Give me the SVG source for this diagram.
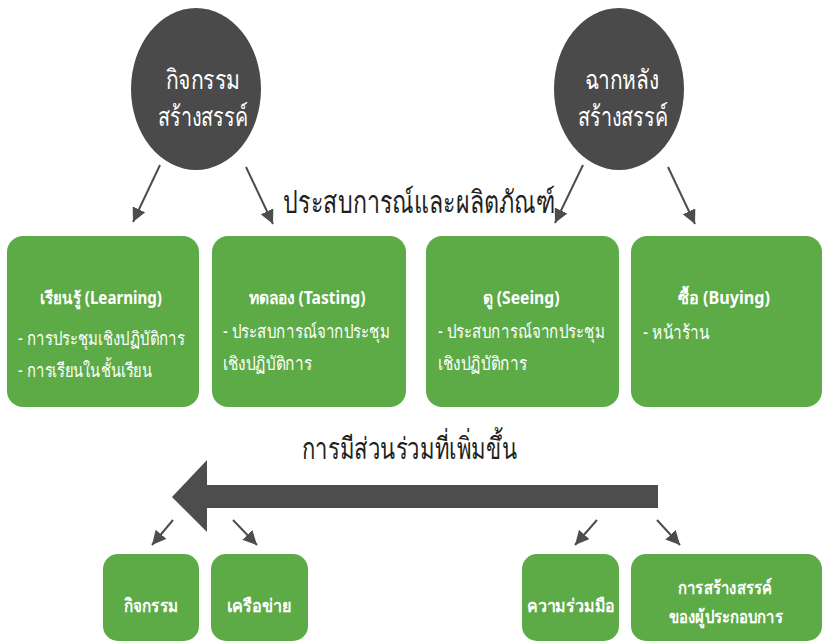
<svg xmlns="http://www.w3.org/2000/svg" width="823" height="643" viewBox="0 0 823 643">
<defs>
<style>
.box{fill:#5DAB47;}
.circ{fill:#4A4A4A;}
.t{font-family:"Noto Sans","DejaVu Sans",sans-serif;fill:#FFFFFF;}
.tb{font-family:"Noto Sans","DejaVu Sans",sans-serif;fill:#FFFFFF;font-weight:bold;}
.h{font-family:"Noto Sans","DejaVu Sans",sans-serif;fill:#231F20;}
.con{stroke:#4D4D4D;stroke-width:2;fill:none;}
</style>
<marker id="ah" markerUnits="userSpaceOnUse" markerWidth="16" markerHeight="14" refX="14" refY="7" orient="auto">
<path d="M0,0 L14,7 L0,14 Z" fill="#4D4D4D"/>
</marker>
</defs>
<rect width="823" height="643" fill="#FFFFFF"/>

<g id="circle-left">
<ellipse class="circ" cx="196" cy="89" rx="65" ry="81"/>
<text class="t" x="203" y="89" font-size="27" text-anchor="middle" textLength="75" lengthAdjust="spacingAndGlyphs">กิจกรรม</text>
<text class="t" x="203" y="126" font-size="27" text-anchor="middle" textLength="90" lengthAdjust="spacingAndGlyphs">สร้างสรรค์</text>
</g>
<g id="circle-right">
<ellipse class="circ" cx="619" cy="89" rx="65" ry="81"/>
<text class="t" x="622" y="89" font-size="27" text-anchor="middle" textLength="75" lengthAdjust="spacingAndGlyphs">ฉากหลัง</text>
<text class="t" x="623" y="126" font-size="27" text-anchor="middle" textLength="90" lengthAdjust="spacingAndGlyphs">สร้างสรรค์</text>
</g>

<g id="label-top">
<text class="h" x="283" y="213" font-size="31" textLength="272" lengthAdjust="spacingAndGlyphs">ประสบการณ์และผลิตภัณฑ์</text>
</g>

<g id="box-learning">
<rect class="box" x="7" y="236" width="192" height="171" rx="16"/>
<text class="tb" x="101" y="304" font-size="17" text-anchor="middle" textLength="122" lengthAdjust="spacingAndGlyphs">เรียนรู้ (Learning)</text>
<text class="t" x="18" y="345" font-size="19" textLength="167" lengthAdjust="spacingAndGlyphs">- การประชุมเชิงปฏิบัติการ</text>
<text class="t" x="18" y="377" font-size="19" textLength="134" lengthAdjust="spacingAndGlyphs">- การเรียนในชั้นเรียน</text>
</g>
<g id="box-tasting">
<rect class="box" x="212" y="236" width="194" height="171" rx="16"/>
<text class="tb" x="307" y="304" font-size="17" text-anchor="middle" textLength="117" lengthAdjust="spacingAndGlyphs">ทดลอง (Tasting)</text>
<text class="t" x="223" y="338" font-size="19" textLength="167" lengthAdjust="spacingAndGlyphs">- ประสบการณ์จากประชุม</text>
<text class="t" x="223" y="370" font-size="19" textLength="89" lengthAdjust="spacingAndGlyphs">เชิงปฏิบัติการ</text>
</g>
<g id="box-seeing">
<rect class="box" x="426" y="236" width="193" height="171" rx="16"/>
<text class="tb" x="521" y="304" font-size="17" text-anchor="middle" textLength="77" lengthAdjust="spacingAndGlyphs">ดู (Seeing)</text>
<text class="t" x="438" y="338" font-size="19" textLength="167" lengthAdjust="spacingAndGlyphs">- ประสบการณ์จากประชุม</text>
<text class="t" x="438" y="370" font-size="19" textLength="89" lengthAdjust="spacingAndGlyphs">เชิงปฏิบัติการ</text>
</g>
<g id="box-buying">
<rect class="box" x="631" y="236" width="191" height="171" rx="16"/>
<text class="tb" x="724" y="304" font-size="17" text-anchor="middle" textLength="92" lengthAdjust="spacingAndGlyphs">ซื้อ (Buying)</text>
<text class="t" x="643" y="339" font-size="19" textLength="67" lengthAdjust="spacingAndGlyphs">- หน้าร้าน</text>
</g>

<g id="label-participation">
<text class="h" x="302" y="459" font-size="30" textLength="215" lengthAdjust="spacingAndGlyphs">การมีส่วนร่วมที่เพิ่มขึ้น</text>
</g>

<g id="big-arrow">
<polygon points="658,485 207,485 207,460 172,497 207,532 207,508 658,508" fill="#4D4D4D"/>
</g>

<g id="box-activity">
<rect class="box" x="103" y="554" width="96" height="87" rx="15"/>
<text class="tb" x="151" y="612" font-size="18" text-anchor="middle" textLength="55" lengthAdjust="spacingAndGlyphs">กิจกรรม</text>
</g>
<g id="box-network">
<rect class="box" x="211" y="554" width="97" height="87" rx="15"/>
<text class="tb" x="259" y="612" font-size="18" text-anchor="middle" textLength="65" lengthAdjust="spacingAndGlyphs">เครือข่าย</text>
</g>
<g id="box-cooperation">
<rect class="box" x="522" y="554" width="97" height="87" rx="15"/>
<text class="tb" x="571" y="612" font-size="18" text-anchor="middle" textLength="88" lengthAdjust="spacingAndGlyphs">ความร่วมมือ</text>
</g>
<g id="box-creation">
<rect class="box" x="631" y="554" width="191" height="87" rx="15"/>
<text class="tb" x="725" y="594" font-size="18" text-anchor="middle" textLength="94" lengthAdjust="spacingAndGlyphs">การสร้างสรรค์</text>
<text class="tb" x="726" y="623" font-size="18" text-anchor="middle" textLength="114" lengthAdjust="spacingAndGlyphs">ของผู้ประกอบการ</text>
</g>

<g id="connectors">
<line class="con" x1="160" y1="165" x2="133" y2="222" marker-end="url(#ah)"/>
<line class="con" x1="246" y1="167" x2="273" y2="224" marker-end="url(#ah)"/>
<line class="con" x1="583" y1="165" x2="555" y2="223" marker-end="url(#ah)"/>
<line class="con" x1="668" y1="167" x2="695" y2="224" marker-end="url(#ah)"/>
<line class="con" x1="173" y1="520" x2="152" y2="545" marker-end="url(#ah)"/>
<line class="con" x1="233" y1="520" x2="257" y2="545" marker-end="url(#ah)"/>
<line class="con" x1="597" y1="520" x2="575" y2="545" marker-end="url(#ah)"/>
<line class="con" x1="657" y1="520" x2="680" y2="545" marker-end="url(#ah)"/>
</g>
</svg>
